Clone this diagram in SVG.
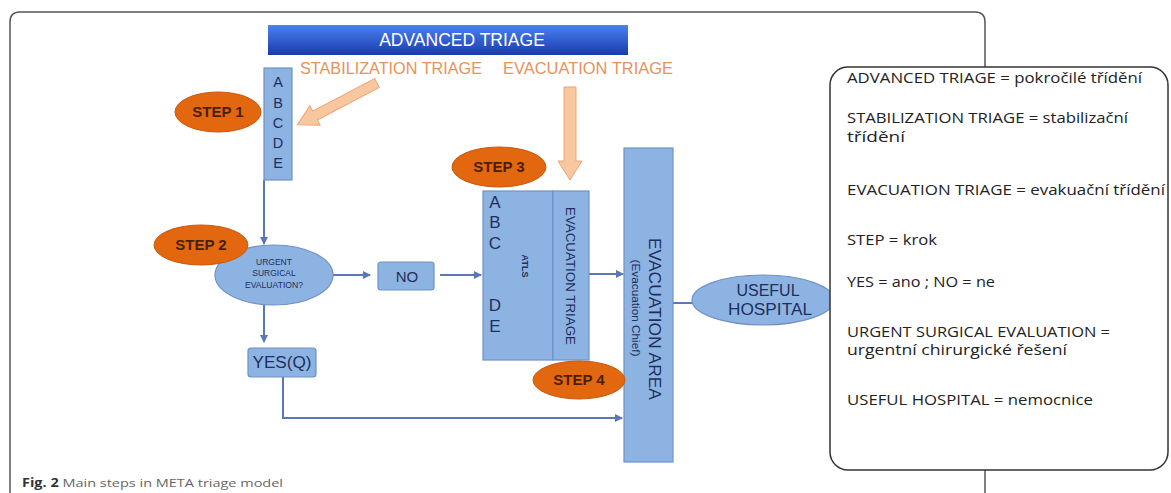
<svg xmlns="http://www.w3.org/2000/svg" width="1171" height="493" viewBox="0 0 1171 493">
<defs>
<linearGradient id="bannerGrad" x1="0" y1="0" x2="0" y2="1">
<stop offset="0" stop-color="#4a82ee"/>
<stop offset="1" stop-color="#1a3bb0"/>
</linearGradient>
<marker id="arr" markerWidth="8" markerHeight="8" refX="7" refY="4" orient="auto" markerUnits="userSpaceOnUse">
<path d="M0,0 L8,4 L0,8 Z" fill="#5a78b6"/>
</marker>
<style>
.box{fill:#8db3e2;stroke:#6f91c6;stroke-width:1.2}
.step{fill:#e2670f;stroke:#c9580d;stroke-width:1}
.steptxt{font-family:"Liberation Sans",Arial,sans-serif;font-size:15px;font-weight:bold;fill:#4a1f06;text-anchor:middle}
.lbl{font-family:"Liberation Sans",Arial,sans-serif;fill:#1f2f5e;text-anchor:middle}
.orange{font-family:"Liberation Sans",Arial,sans-serif;font-size:16.5px;fill:#e8925a}
.conn{fill:none;stroke:#5a78b6;stroke-width:2}
.peach{fill:#f8c7a0;stroke:#e9a574;stroke-width:1}
.leg{font-family:"Open Sans","Liberation Sans",sans-serif;font-size:14px;fill:#222}
.frame{fill:none;stroke:#555;stroke-width:1.5}
</style>
</defs>
<rect width="1171" height="493" fill="#ffffff"/>

<g id="frame">
<path class="frame" d="M10,493 L10,22 Q10,12 20,12 L975,12 Q985,12 985,22 L985,68"/>
<path class="frame" d="M985,469 L985,493"/>
</g>

<g id="banner">
<rect x="268" y="25" width="360" height="30" fill="url(#bannerGrad)"/>
<text x="462" y="46" font-family="Liberation Sans, Arial, sans-serif" font-size="17.5" fill="#ffffff" text-anchor="middle">ADVANCED TRIAGE</text>
</g>

<g id="stab-label"><text class="orange" x="300" y="74" textLength="182" lengthAdjust="spacingAndGlyphs">STABILIZATION TRIAGE</text></g>
<g id="evac-label"><text class="orange" x="503" y="74" textLength="170" lengthAdjust="spacingAndGlyphs">EVACUATION TRIAGE</text></g>

<g id="stab-arrow">
<polygon class="peach" transform="translate(377,83) rotate(152.3)" points="0,-5 70,-5 70,-11 90,0 70,11 70,5 0,5"/>
</g>
<g id="evac-arrow">
<polygon class="peach" points="564,87 576,87 576,161 582,161 570,180 558,161 564,161"/>
</g>

<g id="connectors">
<line class="conn" x1="264" y1="180" x2="264" y2="244" marker-end="url(#arr)"/>
<line class="conn" x1="333" y1="275" x2="370" y2="275" marker-end="url(#arr)"/>
<line class="conn" x1="264" y1="305" x2="264" y2="342" marker-end="url(#arr)"/>
<line class="conn" x1="440" y1="275" x2="481" y2="275" marker-end="url(#arr)"/>
<line class="conn" x1="580" y1="274" x2="623" y2="274" marker-end="url(#arr)"/>
<polyline class="conn" points="283,377 283,418 622,418" marker-end="url(#arr)"/>
<line class="conn" x1="673" y1="303" x2="693" y2="303"/>
</g>

<g id="abcde1">
<rect class="box" x="264" y="68" width="28" height="112"/>
<g class="lbl" font-size="14.5">
<text x="278" y="87">A</text>
<text x="278" y="108">B</text>
<text x="278" y="128">C</text>
<text x="278" y="148">D</text>
<text x="278" y="168">E</text>
</g>
</g>

<g id="step1">
<ellipse class="step" cx="218" cy="112" rx="43" ry="20"/>
<text class="steptxt" x="218" y="117">STEP 1</text>
</g>

<g id="urgent">
<ellipse class="box" cx="274" cy="275" rx="59" ry="30"/>
<g class="lbl" font-size="8.5">
<text x="274" y="265">URGENT</text>
<text x="274" y="276">SURGICAL</text>
<text x="274" y="288" textLength="58" lengthAdjust="spacingAndGlyphs">EVALUATION?</text>
</g>
</g>

<g id="step2">
<ellipse class="step" cx="201" cy="245" rx="47" ry="20"/>
<text class="steptxt" x="201" y="250">STEP 2</text>
</g>

<g id="no">
<rect class="box" x="378" y="262" width="56" height="28" rx="3"/>
<text class="lbl" x="407" y="282" font-size="15">NO</text>
</g>

<g id="yes">
<rect class="box" x="248" y="348" width="68" height="29" rx="3"/>
<text class="lbl" x="282" y="368" font-size="16" textLength="59" lengthAdjust="spacingAndGlyphs">YES(Q)</text>
</g>

<g id="atls">
<rect class="box" x="483" y="191" width="70" height="169"/>
<g class="lbl" font-size="17">
<text x="495" y="208">A</text>
<text x="495" y="228">B</text>
<text x="495" y="249">C</text>
<text x="495" y="311">D</text>
<text x="495" y="332">E</text>
</g>
<text class="lbl" font-size="9" font-weight="bold" transform="translate(522,266) rotate(90)">ATLS</text>
</g>

<g id="evac-triage">
<rect class="box" x="553" y="191" width="36" height="169"/>
<text class="lbl" font-size="13" transform="translate(566,276) rotate(90)" textLength="138" lengthAdjust="spacingAndGlyphs">EVACUATION TRIAGE</text>
</g>

<g id="step3">
<ellipse class="step" cx="499" cy="167" rx="47" ry="20"/>
<text class="steptxt" x="499" y="172">STEP 3</text>
</g>

<g id="evac-area">
<rect class="box" x="624" y="148" width="49" height="314"/>
<text class="lbl" font-size="17" transform="translate(649,319) rotate(90)" textLength="162" lengthAdjust="spacingAndGlyphs">EVACUATION AREA</text>
<text class="lbl" font-size="10" transform="translate(632,308) rotate(90)" textLength="97" lengthAdjust="spacingAndGlyphs">(Evacuation Chief)</text>
</g>

<g id="step4">
<ellipse class="step" cx="579" cy="380" rx="46" ry="19"/>
<text class="steptxt" x="579" y="385">STEP 4</text>
</g>

<g id="hospital">
<ellipse class="box" cx="763" cy="300" rx="71" ry="25"/>
<g class="lbl" font-size="16">
<text x="768" y="296">USEFUL</text>
<text x="770" y="315" textLength="84" lengthAdjust="spacingAndGlyphs">HOSPITAL</text>
</g>
</g>

<g id="legend">
<rect x="830" y="67" width="338" height="403" rx="18" ry="18" fill="#ffffff" stroke="#333" stroke-width="1.5"/>
<g class="leg">
<text x="847" y="83" textLength="295" lengthAdjust="spacingAndGlyphs">ADVANCED TRIAGE = pokročilé třídění</text>
<text x="847" y="123" textLength="281" lengthAdjust="spacingAndGlyphs">STABILIZATION TRIAGE = stabilizační</text>
<text x="847" y="142" textLength="58" lengthAdjust="spacingAndGlyphs">třídění</text>
<text x="847" y="195" textLength="318" lengthAdjust="spacingAndGlyphs">EVACUATION TRIAGE = evakuační třídění</text>
<text x="847" y="245" textLength="90" lengthAdjust="spacingAndGlyphs">STEP = krok</text>
<text x="847" y="287" textLength="148" lengthAdjust="spacingAndGlyphs">YES = ano ; NO = ne</text>
<text x="847" y="337" textLength="263" lengthAdjust="spacingAndGlyphs">URGENT SURGICAL EVALUATION =</text>
<text x="847" y="355" textLength="220" lengthAdjust="spacingAndGlyphs">urgentní chirurgické řešení</text>
<text x="847" y="405" textLength="246" lengthAdjust="spacingAndGlyphs">USEFUL HOSPITAL = nemocnice</text>
</g>
</g>

<g id="caption">
<text x="22" y="487" font-family="Open Sans, Liberation Sans, sans-serif" font-size="11.5" fill="#666" textLength="261" lengthAdjust="spacingAndGlyphs"><tspan font-weight="bold" fill="#333">Fig. 2</tspan> Main steps in META triage model</text>
</g>
</svg>
